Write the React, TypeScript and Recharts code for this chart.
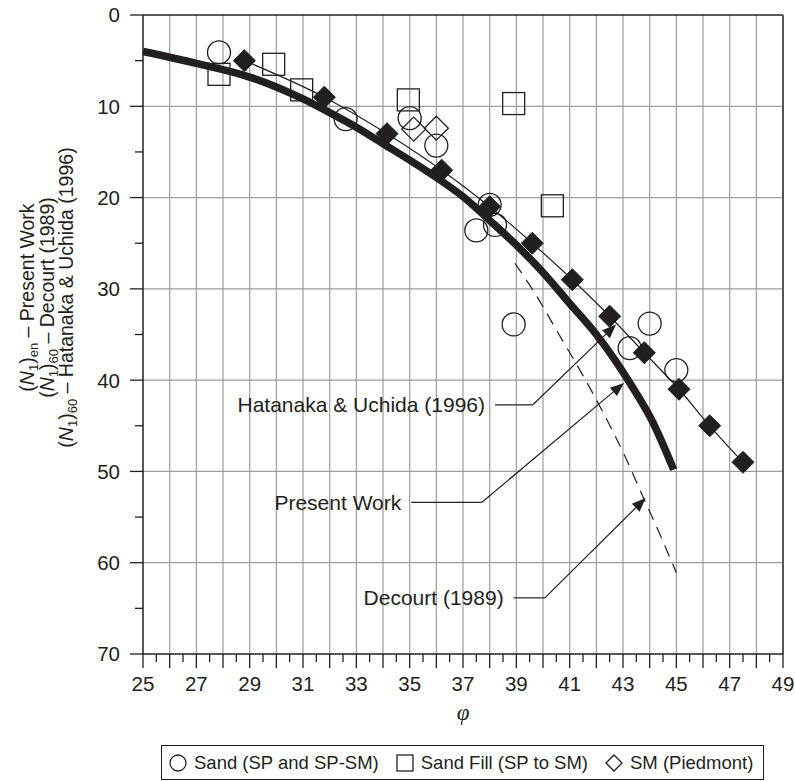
import React from "react"
import { ComposedChart, Line, Scatter, XAxis, YAxis, CartesianGrid, ReferenceLine, Label } from "recharts"

const INK = "#231f20"
const GRID = "#9d9d9d"
const FONT = "'Liberation Sans', Arial, Helvetica, sans-serif"

// phi (x) vs blow count (y, drawn downward)
const sand = [
  { x: 27.85, y: 4.1 }, { x: 32.6, y: 11.4 }, { x: 35.0, y: 11.3 }, { x: 36.0, y: 14.3 },
  { x: 38.0, y: 20.8 }, { x: 37.5, y: 23.6 }, { x: 38.2, y: 23.0 },
  { x: 38.9, y: 33.9 }, { x: 44.0, y: 33.8 }, { x: 43.25, y: 36.5 }, { x: 45.0, y: 38.9 },
]
const sandFill = [
  { x: 27.85, y: 6.5 }, { x: 29.9, y: 5.4 }, { x: 30.95, y: 8.2 },
  { x: 34.95, y: 9.3 }, { x: 38.9, y: 9.7 }, { x: 40.35, y: 20.9 },
]
const piedmont = [{ x: 35.15, y: 12.5 }, { x: 36.0, y: 12.4 }]

const hatanaka = [
  { x: 28.8, y: 5 }, { x: 31.8, y: 9 }, { x: 34.15, y: 13 }, { x: 36.2, y: 17 },
  { x: 38.0, y: 21 }, { x: 39.6, y: 25 }, { x: 41.1, y: 29 }, { x: 42.5, y: 33 },
  { x: 43.8, y: 37 }, { x: 45.1, y: 41 }, { x: 46.25, y: 45 }, { x: 47.5, y: 49 },
]
const presentWork = [
  { x: 25, y: 4.0 }, { x: 27, y: 5.3 }, { x: 29, y: 6.8 }, { x: 31, y: 9.2 },
  { x: 32, y: 10.7 }, { x: 33, y: 12.3 }, { x: 34, y: 14.1 }, { x: 35, y: 15.9 },
  { x: 36, y: 17.8 }, { x: 37, y: 19.9 }, { x: 38, y: 22.5 }, { x: 39, y: 25.2 },
  { x: 40, y: 28.2 }, { x: 41, y: 31.6 }, { x: 42, y: 35.0 }, { x: 42.7, y: 37.8 },
  { x: 43.3, y: 40.5 }, { x: 44.1, y: 44.5 }, { x: 44.9, y: 49.8 },
]
const decourt = [
  { x: 38.95, y: 27.2 }, { x: 39.7, y: 30.5 }, { x: 40.6, y: 35 }, { x: 41.5, y: 39.5 },
  { x: 42.3, y: 43.8 }, { x: 43.1, y: 48.5 }, { x: 43.8, y: 53.1 }, { x: 44.4, y: 57 },
  { x: 45.0, y: 61.1 },
]

const xGrid = [26, 27, 28, 29, 30, 31, 32, 33, 34, 35, 36, 37, 38, 39, 40, 41, 42, 43, 44, 45, 46, 47, 48]
const xLabels = [25, 27, 29, 31, 33, 35, 37, 39, 41, 43, 45, 47, 49]
const xTicks = [25, ...xGrid, 49].flatMap((v) => (v < 49 ? [v, v + 0.5] : [v]))
const yGrid = [10, 20, 30, 40, 50, 60]
const yTicks = [0, 5, 10, 15, 20, 25, 30, 35, 40, 45, 50, 55, 60, 65, 70]

const yTitleLines = [
  { sub: "en", rest: " – Present Work" },
  { sub: "60", rest: " – Decourt (1989)" },
  { sub: "60", rest: " – Hatanaka & Uchida (1996)" },
]

const callouts = [
  { text: "Hatanaka & Uchida (1996)", from: { x: 38.2, y: 42.7 }, bend: { x: 39.62, y: 42.7 }, tip: { x: 42.74, y: 33.9 } },
  { text: "Present Work", from: { x: 35.06, y: 53.4 }, bend: { x: 37.7, y: 53.4 }, tip: { x: 43.04, y: 40.3 } },
  { text: "Decourt (1989)", from: { x: 38.9, y: 63.85 }, bend: { x: 40.07, y: 63.85 }, tip: { x: 43.85, y: 52.9 } },
]

const legendItems = [
  { label: "Sand (SP and SP-SM)", shape: "circle" },
  { label: "Sand Fill (SP to SM)", shape: "square" },
  { label: "SM (Piedmont)", shape: "diamond" },
]

const diamondPts = (cx: number, cy: number, h: number) =>
  `${cx},${cy - h} ${cx + h},${cy} ${cx},${cy + h} ${cx - h},${cy}`

const OpenCircle = (p: any) => (
  <circle cx={p.cx} cy={p.cy} r={11.5} fill="none" stroke={INK} strokeWidth={1.3} />
)
const OpenSquare = (p: any) => (
  <rect x={p.cx - 11} y={p.cy - 11} width={22} height={22} fill="none" stroke={INK} strokeWidth={1.3} />
)
const OpenDiamond = (p: any) => (
  <polygon points={diamondPts(p.cx, p.cy, 12)} fill="none" stroke={INK} strokeWidth={1.3} />
)
const FilledDiamond = (p: any) => (
  <polygon key={`d${p.index}`} points={diamondPts(p.cx, p.cy, 11)} fill={INK} stroke={INK} />
)

const XTick = (p: any) => {
  const v = p.payload.value
  const major = Number.isInteger(v)
  return (
    <g>
      <line x1={p.x} y1={p.y} x2={p.x} y2={p.y + (major ? 14 : 8)} stroke={INK} strokeWidth={1.3} />
      {xLabels.includes(v) && (
        <text x={p.x} y={p.y + 37} textAnchor="middle" fontSize={20.5} fill={INK} fontFamily={FONT}>
          {v}
        </text>
      )}
    </g>
  )
}

const YTick = (p: any) => {
  const v = p.payload.value
  const major = v % 10 === 0
  return (
    <g>
      <line x1={p.x} y1={p.y} x2={p.x - (major ? 13 : 8)} y2={p.y} stroke={INK} strokeWidth={1.3} />
      {major && (
        <text x={p.x - 23} y={p.y} dy="0.36em" textAnchor="end" fontSize={20.5} fill={INK} fontFamily={FONT}>
          {v}
        </text>
      )}
    </g>
  )
}

const YTitle = (p: any) => {
  const vb = p.viewBox || { x: 0, y: 15, width: 143, height: 639 }
  const cy = vb.y + vb.height / 2 - 37
  return (
    <g>
      {yTitleLines.map((l, i) => (
        <text
          key={i}
          transform={`translate(${vb.x + 34 + i * 19.5},${cy}) rotate(-90)`}
          textAnchor="middle"
          fontSize={19.5}
          fill={INK}
          fontFamily={FONT}
        >
          (<tspan fontStyle="italic">N</tspan>
          <tspan fontSize={13} dy={4}>1</tspan>
          <tspan dy={-4}>)</tspan>
          <tspan fontSize={13} dy={4}>{l.sub}</tspan>
          <tspan dy={-4}>{l.rest}</tspan>
        </text>
      ))}
    </g>
  )
}

const XTitle = (p: any) => {
  const vb = p.viewBox || { x: 143, y: 654, width: 640, height: 127 }
  return (
    <text x={vb.x + vb.width / 2} y={vb.y + 66} textAnchor="middle" fontSize={23}
      fontStyle="italic" fill={INK} fontFamily="'Liberation Serif', 'DejaVu Serif', serif">
      φ
    </text>
  )
}

const leader = (text: string) => (p: any) => (
  <g>
    <line x1={p.x1} y1={p.y1} x2={p.x2} y2={p.y2} stroke={INK} strokeWidth={1.2} />
    <text x={p.x1 - 10} y={p.y1} dy="0.36em" textAnchor="end" fontSize={21} fill={INK} fontFamily={FONT}>
      {text}
    </text>
  </g>
)

const arrow = (p: any) => {
  const dx = p.x2 - p.x1
  const dy = p.y2 - p.y1
  const len = Math.hypot(dx, dy) || 1
  const ux = dx / len
  const uy = dy / len
  const bx = p.x2 - ux * 14
  const by = p.y2 - uy * 14
  return (
    <g>
      <line x1={p.x1} y1={p.y1} x2={bx} y2={by} stroke={INK} strokeWidth={1.2} />
      <polygon
        points={`${p.x2},${p.y2} ${bx - uy * 5.5},${by + ux * 5.5} ${bx + uy * 5.5},${by - ux * 5.5}`}
        fill={INK}
      />
    </g>
  )
}

const LegendIcon = ({ shape }: { shape: string }) => (
  <svg width={18} height={18} style={{ display: "block" }}>
    {shape === "circle" && <circle cx={9} cy={9} r={8} fill="none" stroke={INK} strokeWidth={1.3} />}
    {shape === "square" && <rect x={1} y={1} width={16} height={16} fill="none" stroke={INK} strokeWidth={1.3} />}
    {shape === "diamond" && <polygon points={diamondPts(9, 9, 8)} fill="none" stroke={INK} strokeWidth={1.3} />}
  </svg>
)

export default function App() {
  return (
    <div style={{ position: "absolute", left: 0, top: 0, width: 795, height: 781, background: "#fff" }}>
      <ComposedChart width={795} height={781} margin={{ top: 15, right: 12, left: 0, bottom: 0 }}>
        <CartesianGrid
          stroke={GRID}
          strokeWidth={1.2}
          verticalValues={xGrid}
          horizontalValues={yGrid}
        />

        <XAxis
          dataKey="x"
          type="number"
          domain={[25, 49]}
          ticks={xTicks}
          interval={0}
          tickSize={0}
          tickMargin={0}
          tickLine={false}
          tick={<XTick />}
          height={127}
          axisLine={{ stroke: INK, strokeWidth: 1.5 }}
        >
          <Label content={<XTitle />} />
        </XAxis>
        <YAxis
          dataKey="y"
          type="number"
          domain={[0, 70]}
          reversed
          ticks={yTicks}
          interval={0}
          tickSize={0}
          tickMargin={0}
          tickLine={false}
          tick={<YTick />}
          width={143}
          axisLine={{ stroke: INK, strokeWidth: 1.5 }}
        >
          <Label content={<YTitle />} />
        </YAxis>

        <Line data={presentWork} dataKey="y" type="monotone" stroke={INK} strokeWidth={7.5}
          dot={false} activeDot={false} isAnimationActive={false} />
        <Line data={decourt} dataKey="y" type="monotone" stroke={INK} strokeWidth={1.2}
          strokeDasharray="12 8" dot={false} activeDot={false} isAnimationActive={false} />
        <Line data={hatanaka} dataKey="y" type="monotone" stroke={INK} strokeWidth={1.2}
          dot={FilledDiamond} activeDot={false} isAnimationActive={false} />

        <Scatter data={sand} shape={OpenCircle} isAnimationActive={false} />
        <Scatter data={sandFill} shape={OpenSquare} isAnimationActive={false} />
        <Scatter data={piedmont} shape={OpenDiamond} isAnimationActive={false} />

        <ReferenceLine y={0} stroke={INK} strokeWidth={1.5} />
        <ReferenceLine x={49} stroke="#555" strokeWidth={2} />

        {callouts.map((c) => (
          <ReferenceLine key={`l-${c.text}`} segment={[c.from, c.bend]} shape={leader(c.text)} />
        ))}
        {callouts.map((c) => (
          <ReferenceLine key={`a-${c.text}`} segment={[c.bend, c.tip]} shape={arrow} />
        ))}
      </ComposedChart>

      <div
        style={{
          position: "absolute", left: 161, top: 745, width: 603, height: 35, boxSizing: "border-box",
          border: `1.5px solid ${INK}`, display: "flex", alignItems: "center", paddingLeft: 7,
          fontFamily: FONT, fontSize: 18.5, color: INK, whiteSpace: "nowrap",
        }}
      >
        {legendItems.map((it, i) => (
          <div key={it.label} style={{ display: "flex", alignItems: "center", marginLeft: i === 0 ? 0 : 17 }}>
            <LegendIcon shape={it.shape} />
            <span style={{ marginLeft: 7 }}>{it.label}</span>
          </div>
        ))}
      </div>
    </div>
  )
}
